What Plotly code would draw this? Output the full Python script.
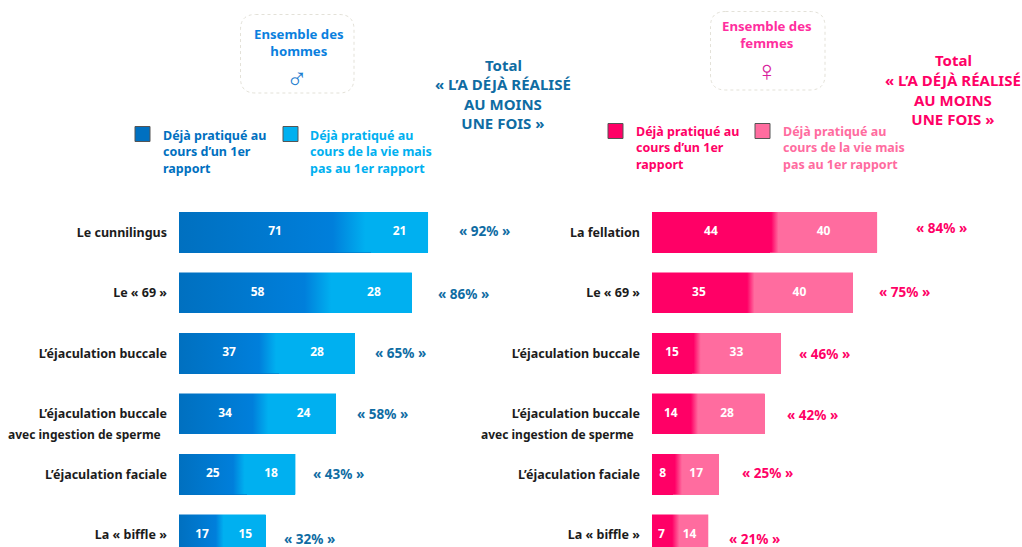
import plotly.graph_objects as go

W, H = 1022, 547
FONT = "Noto Sans"

men_acts = ["Le cunnilingus", "Le « 69 »", "L’éjaculation buccale", "L’éjaculation buccale", "L’éjaculation faciale", "La « biffle »"]
women_acts = ["La fellation", "Le « 69 »", "L’éjaculation buccale", "L’éjaculation buccale", "L’éjaculation faciale", "La « biffle »"]
men_first = [71, 58, 37, 34, 25, 17]
men_later = [21, 28, 28, 24, 18, 15]
men_total = [92, 86, 65, 58, 43, 32]
women_first = [44, 35, 15, 14, 8, 7]
women_later = [40, 40, 33, 28, 17, 14]
women_total = [84, 75, 46, 42, 25, 21]
second_line = "avec ingestion de sperme"

BLUE_D, BLUE_M, BLUE_L = "#0070C0", "#007FDB", "#00B0F0"
PINK_D, PINK_L = "#FF0066", "#FF6C9F"
TEAL = "#0F6CA3"
BLACK = "#1c1c1c"

# pixel layout
ROW0, STEP, BAR_H = 232.3, 60.5, 40.5
Y_RANGE = [(H - ROW0) / STEP, -ROW0 / STEP]
M_X0, M_SCALE, M_X1 = 179, 2.707, 500
F_X0, F_SCALE, F_X1 = 652, 2.68, 1000
BAR_W = BAR_H / STEP
rows = list(range(len(men_first)))

fig = go.Figure()


def panel(first, later, dark, light, stops, xa, ya, names):
    fig.add_trace(go.Bar(x=first, y=rows, orientation="h", width=BAR_W, marker=dict(color=dark, line_width=0),
                         name=names[0], xaxis=xa, yaxis=ya, showlegend=False, hoverinfo="x+y"))
    fig.add_trace(go.Bar(x=later, y=rows, orientation="h", width=BAR_W, marker=dict(color=light, line_width=0),
                         name=names[1], xaxis=xa, yaxis=ya, showlegend=False, hoverinfo="x+y"))
    for r, a, b in zip(rows, first, later):
        t = a + b
        fig.add_trace(go.Scatter(
            x=[0, t, t, 0, 0],
            y=[r - BAR_W / 2, r - BAR_W / 2, r + BAR_W / 2, r + BAR_W / 2, r - BAR_W / 2],
            mode="lines", line=dict(width=0), fill="toself",
            fillgradient=dict(type="horizontal", colorscale=stops(a, t)),
            xaxis=xa, yaxis=ya, showlegend=False, hoverinfo="skip"))
    fig.add_trace(go.Scatter(
        x=[a / 2 for a in first] + [a + b / 2 for a, b in zip(first, later)],
        y=rows + rows,
        text=[str(v) for v in first + later],
        mode="text", textposition="middle center",
        textfont=dict(family=FONT, size=12, color="white", weight=700),
        xaxis=xa, yaxis=ya, showlegend=False, hoverinfo="skip"))


def blue_stops(a, t):
    return [[0, BLUE_D], [0.8 * a / t, BLUE_M], [0.97 * a / t, BLUE_L], [1, BLUE_L]]


def pink_stops(a, t):
    return [[0, PINK_D], [(a + 0.5) / t, PINK_D], [min((a + 3.2) / t, 1), PINK_L], [1, PINK_L]]


panel(men_first, men_later, BLUE_D, BLUE_L, blue_stops, "x", "y",
      ["Déjà pratiqué au cours d’un 1er rapport", "Déjà pratiqué au cours de la vie mais pas au 1er rapport"])
panel(women_first, women_later, PINK_D, PINK_L, pink_stops, "x2", "y2",
      ["Déjà pratiqué au cours d’un 1er rapport", "Déjà pratiqué au cours de la vie mais pas au 1er rapport"])

anns, shapes = [], []


def txt(px, py, s, color, size, anchor="center", align="center", weight=700):
    anns.append(dict(x=px / W, y=1 - py / H, xref="paper", yref="paper", text=s, showarrow=False,
                     xanchor=anchor, yanchor="middle", align=align, borderpad=0,
                     font=dict(family=FONT, size=size, color=color, weight=weight)))


def dashed_box(x0, y0, x1, y1, r=15):
    fx = lambda v: v / W
    fy = lambda v: 1 - v / H
    path = (f"M {fx(x0 + r)} {fy(y0)} L {fx(x1 - r)} {fy(y0)} Q {fx(x1)} {fy(y0)} {fx(x1)} {fy(y0 + r)} "
            f"L {fx(x1)} {fy(y1 - r)} Q {fx(x1)} {fy(y1)} {fx(x1 - r)} {fy(y1)} "
            f"L {fx(x0 + r)} {fy(y1)} Q {fx(x0)} {fy(y1)} {fx(x0)} {fy(y1 - r)} "
            f"L {fx(x0)} {fy(y0 + r)} Q {fx(x0)} {fy(y0)} {fx(x0 + r)} {fy(y0)} Z")
    shapes.append(dict(type="path", path=path, xref="paper", yref="paper",
                       line=dict(color="#e3e1d8", width=1, dash="dot")))


def swatch(x0, y0, color):
    shapes.append(dict(type="rect", xref="paper", yref="paper", x0=x0 / W, x1=(x0 + 15) / W,
                       y0=1 - y0 / H, y1=1 - (y0 + 15) / H, fillcolor=color,
                       line=dict(color="#555555", width=1)))


# Header boxes
dashed_box(240.5, 14.5, 354, 93)
txt(299, 42.5, "Ensemble des<br>hommes", "#0A80DE", 13.2)
txt(297, 77, "♂", "#1F7FD0", 29, weight=400)
dashed_box(710.5, 11.5, 825, 90)
txt(767, 34.5, "Ensemble des<br>femmes", "#FF2E9E", 13.2)
txt(767, 69, "♀", "#D81E9C", 29, weight=400)

# Totals headers
txt(503, 65, "Total", TEAL, 15)
txt(503, 104, "« L’A DÉJÀ RÉALISÉ<br>AU MOINS<br>UNE FOIS »", TEAL, 15)
txt(953, 60, "Total", PINK_D, 15)
txt(953, 99.5, "« L’A DÉJÀ RÉALISÉ<br>AU MOINS<br>UNE FOIS »", PINK_D, 15)

# Legends
swatch(135, 126.5, BLUE_D)
txt(161.5, 152.5, "Déjà pratiqué au<br>cours d’un 1er<br>rapport", BLUE_D, 12.5, "left", "left")
swatch(283, 126.5, BLUE_L)
txt(308.5, 152.5, "Déjà pratiqué au<br>cours de la vie mais<br>pas au 1er rapport", BLUE_L, 12.5, "left", "left")
swatch(608, 123.5, PINK_D)
txt(634.5, 148.5, "Déjà pratiqué au<br>cours d’un 1er<br>rapport", PINK_D, 12.5, "left", "left")
swatch(755, 123.5, PINK_L)
txt(781.5, 148.5, "Déjà pratiqué au<br>cours de la vie mais<br>pas au 1er rapport", PINK_L, 12.5, "left", "left")

# Second line of the fourth category
txt(162, 434.5, second_line, BLACK, 12, "right", "right")
txt(635, 434.5, second_line, BLACK, 12, "right", "right")

# Totals
m_label_x = [484, 463.5, 400.5, 382.5, 338.5, 309.5]
m_label_y = [230.5, 293.5, 353, 414, 473.5, 538.5]
f_label_x = [941.5, 904.5, 824, 812, 767, 754.5]
f_label_y = [228.5, 291.5, 353.5, 414.5, 473, 538.5]
for x, y, v in zip(m_label_x, m_label_y, men_total):
    txt(x, y, f"« {v}% »", TEAL, 13.5)
for x, y, v in zip(f_label_x, f_label_y, women_total):
    txt(x, y, f"« {v}% »", PINK_D, 13.5)

hidden_x = dict(showgrid=False, zeroline=False, showline=False, showticklabels=False, ticks="")


def y_axis(labels, anchor):
    return dict(domain=[0, 1], range=Y_RANGE, anchor=anchor, tickmode="array", tickvals=rows, ticktext=labels,
                showgrid=False, zeroline=False, showline=False, ticks="", ticklabelstandoff=11,
                tickfont=dict(family=FONT, size=12.5, color=BLACK, weight=700))


fig.update_layout(
    width=W, height=H, margin=dict(l=0, r=0, t=0, b=0),
    paper_bgcolor="white", plot_bgcolor="white",
    barmode="stack", showlegend=False,
    xaxis=dict(domain=[M_X0 / W, M_X1 / W], range=[0, (M_X1 - M_X0) / M_SCALE], anchor="y", **hidden_x),
    xaxis2=dict(domain=[F_X0 / W, F_X1 / W], range=[0, (F_X1 - F_X0) / F_SCALE], anchor="y2", **hidden_x),
    yaxis=y_axis(men_acts, "x"),
    yaxis2=y_axis(women_acts, "x2"),
    annotations=anns, shapes=shapes,
)

fig.write_html("out.html", config=dict(displayModeBar=False),
               post_script="document.body.style.margin='0';document.body.style.overflow='hidden';")
